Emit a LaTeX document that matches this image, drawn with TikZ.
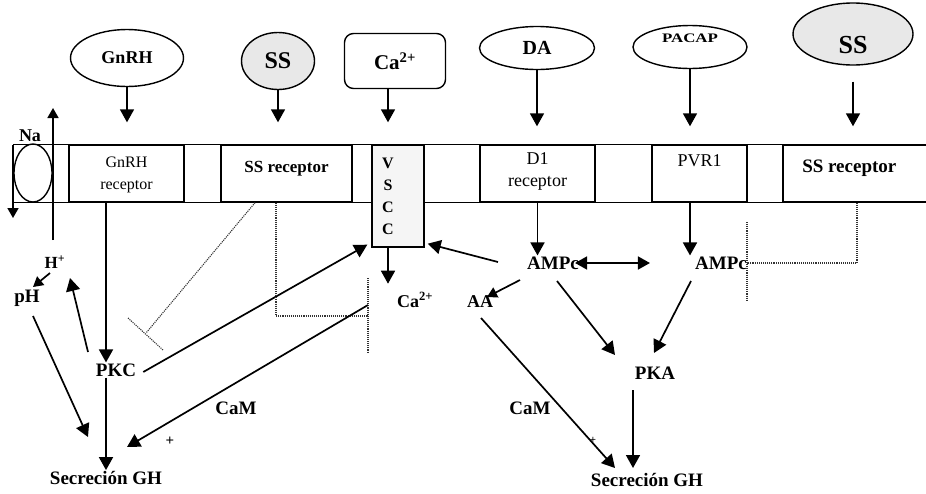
\documentclass[tikz,border=0pt]{standalone}
\usepackage{fontspec}
\setmainfont{Liberation Serif}
\usetikzlibrary{shapes.geometric,arrows.meta,calc}
\begin{document}
\begin{tikzpicture}[x=1pt,y=-1pt,
  fs/.style={font=\bfseries\fontsize{#1}{#1}\selectfont},
  lig/.style={draw, line width=1.4pt, ellipse, inner sep=0pt},
  rec/.style={draw, line width=1.4pt, rectangle, inner sep=0pt},
  arr/.style={line width=1.7pt, -{Triangle[length=13pt,width=14pt]}},
  sarr/.style={line width=1.7pt, -{Triangle[length=10pt,width=11pt]}},
  darr/.style={line width=1.7pt, {Triangle[length=12pt,width=13pt]}-{Triangle[length=12pt,width=13pt]}},
  inh/.style={densely dotted, line width=1.1pt, black!80},
  txt/.style={inner sep=1pt, fs=19},
  small/.style={inner sep=0pt, align=center, font=\fontsize{#1}{22}\selectfont},
]
\useasboundingbox (0,0) rectangle (926,493);

% ligands
\node[lig, minimum width=113, minimum height=57, fs=18] (gnrh) at (127,58) {GnRH};
\node[lig, fill=gray!18, minimum width=73, minimum height=57, fs=24] (ss1) at (278,61) {SS};
\node[draw, line width=1.4pt, rounded corners=9pt, minimum width=101, minimum height=55, fs=21] (ca) at (395,61) {Ca\textsuperscript{2+}};
\node[lig, minimum width=115, minimum height=43, fs=20] (da) at (537,48) {DA};
\node[lig, minimum width=114, minimum height=43,
      label={[fs=13, yshift=9pt]center:\scalebox{1.3}[1]{PACAP}}] (pacap) at (690,47) {};
\node[lig, fill=gray!18, minimum width=120, minimum height=62,
      label={[fs=26, yshift=-11pt]center:SS}] (ss2) at (853,34) {};

% membrane
\node[lig, minimum width=38, minimum height=58] (naion) at (33,173) {};
\node[fs=18, inner sep=0pt] (na) at (30,136) {Na};
\node[rec, minimum width=115, minimum height=57] (rgnrh) at (126.5,173.5) {};
\node[rec, minimum width=131, minimum height=57] (rss1) at (286.5,173.5) {};
\node[rec, minimum width=115, minimum height=57] (rd1) at (537.5,173.5) {};
\node[rec, minimum width=95, minimum height=57] (rpvr) at (699.5,173.5) {};
\node[rec, minimum width=150, minimum height=57] (rss2) at (858,173.5) {};
\draw[line width=1.4pt] (naion.west |- rgnrh.north) -- (rss2.north east);
\draw[line width=1.4pt] (naion.west |- rgnrh.south) -- (rss2.south east);
\node[rec, fill=gray!8, minimum width=52, minimum height=102] (vscc) at (398,196) {};

\node[small=16] at ($(rgnrh)+(0,1)$) {GnRH\\receptor};
\node[fs=17, inner sep=0pt] at ($(rss1)+(0,-5)$) {SS receptor};
\node[small=18] at ($(rd1)+(0,-2)$) {D1\\receptor};
\node[small=18] at ($(rpvr)+(0,-13)$) {PVR1};
\node[fs=19, inner sep=0pt] at ($(rss2.west)+(67,-5)$) {SS receptor};
\node[inner sep=0pt, align=center, font=\bfseries\fontsize{16}{22}\selectfont] at ($(vscc)+(-10,0)$) {V\\S\\C\\C};

% lower nodes
\node[txt, fs=17] (hplus) at (55,262) {H\textsuperscript{+}};
\node[txt, fs=19] (ph) at (27,298) {pH};
\node[txt] (pkc) at (116,370) {PKC};
\node[txt] (sec1) at (106,478) {Secreción GH};
\node[txt, fs=18] (ca2) at (415,300) {Ca\textsuperscript{2+}};
\node[txt] (cam1) at (236,408) {CaM};
\node[txt, fs=15] (plus1) at (170,441) {+};
\node[txt] (ampc1) at (553,263) {AMPc};
\node[txt] (ampc2) at (721,263) {AMPc};
\node[txt, fs=18] (aa) at (480,302) {AA};
\node[txt] (pka) at (655,373) {PKA};
\node[txt] (sec2) at (647,480) {Secreción GH};
\node[txt] (cam2) at (530,408) {CaM};
\node[txt, fs=11] (plus2) at (593,440) {+};

% ligand arrows
\draw[arr] (gnrh.south) -- ($(gnrh.south |- rgnrh.north)+(0,-22)$);
\draw[arr] (ss1.south) -- ($(ss1.south |- rss1.north)+(0,-22)$);
\draw[arr] ($(ca.south)+(-7,0)$) -- ($(ca.south |- vscc.north)+(-7,-22)$);
\draw[arr] (da.south) -- ($(da.south |- rd1.north)+(0,-18)$);
\draw[arr] (pacap.south) -- ($(pacap.south |- rpvr.north)+(0,-18)$);
\draw[arr] ($(ss2.south)+(0,16)$) -- ($(ss2.south |- rss2.north)+(0,-18)$);

% Na
\draw[sarr] ($(naion)+(20,67)$) -- ($(naion)+(20,-65)$);
\draw[sarr] ($(naion)+(-20,-28)$) -- ($(naion)+(-20,45)$);

% left pathway
\draw[arr] (rgnrh.south -| sec1) -- (pkc.north -| sec1);
\draw[arr] (pkc.south -| sec1) -- (sec1.north);
\draw[arr] ($(pkc)+(-28,-18)$) -- ($(hplus)+(15,16)$);
\draw[sarr] ($(hplus)+(-5,11)$) -- ($(ph)+(6,-11)$);
\draw[arr] ($(ph)+(6,18)$) -- ($(sec1)+(-18,-41)$);
\draw[arr] ($(pkc.east)+(6,2)$) -- ($(vscc.south west)+(-4,-3)$);
\draw[arr] ($(vscc.south)+(-10,0)$) -- ($(vscc.south)+(-10,36)$);

% inhibitors
\draw[inh] ($(rss1.south)+(-31.5,0)$) -- ($(pkc)+(30,-37)$);
\draw[inh] ($(pkc)+(12,-52)$) -- ($(pkc)+(47,-20)$);
\draw[inh] ($(rss1.south)+(-10.5,0)$) |- ($(ca2)+(-47,16)$);
\draw[inh] ($(ca2)+(-47,-22)$) -- ($(ca2)+(-47,53)$);
\coordinate (cabar) at ($(ca2)+(-47,5)$);
\draw[arr] (cabar) -- ($(sec1)+(21,-31)$);
\draw[inh] ($(rss2.south)+(-1,0)$) |- ($(ampc2)+(26,0)$);
\draw[inh] ($(ampc2)+(26,-41)$) -- ($(ampc2)+(26,37)$);

% right pathway
\draw[arr] (rd1.south) -- (rd1.south |- ampc1.north);
\draw[arr] (rpvr.south -| pacap) -- (ampc2.north -| pacap);
\draw[darr] ($(ampc1.east)+(-5,0)$) -- ($(ampc2.west)+(-44,0)$);
\draw[arr] ($(ampc1.west)+(-28,-1)$) -- ($(vscc.south east)+(3,-4)$);
\draw[sarr] ($(ampc1)+(-33,17)$) -- ($(aa)+(7,-5)$);
\draw[arr] ($(ampc1)+(4,18)$) -- ($(pka)+(-40,-18)$);
\draw[arr] ($(ampc2)+(-30,18)$) -- ($(pka)+(-1,-20)$);
\draw[arr] ($(pka)+(-22,17)$) -- ($(sec2)+(-14,-12)$);
\draw[arr] ($(aa)+(1,16)$) -- ($(sec2)+(-32,-12)$);
\end{tikzpicture}
\end{document}
